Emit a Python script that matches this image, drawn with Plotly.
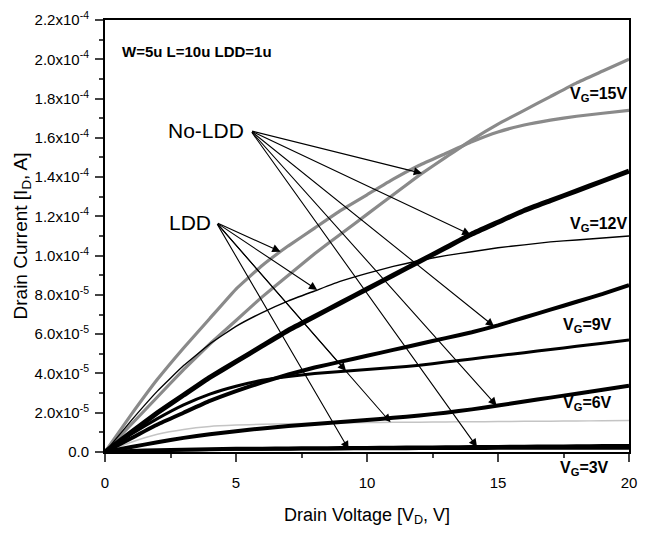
import numpy as np
import plotly.graph_objects as go

# Drain voltage sample points [V]
VD = list(range(0, 21))

# Drain current series, in units of 1e-5 A
noldd_15 = [0, 1.4, 2.8, 4.2, 5.5, 6.7, 7.9, 9.0, 10.1, 11.1, 12.1, 13.1, 14.1, 15.0, 15.9, 16.7, 17.4, 18.1, 18.8, 19.4, 20.0]
ldd_15 = [0, 1.9, 3.7, 5.3, 6.8, 8.3, 9.5, 10.5, 11.4, 12.3, 13.1, 13.9, 14.6, 15.2, 15.8, 16.3, 16.65, 16.9, 17.1, 17.25, 17.4]
noldd_12 = [0, 1.0, 2.0, 2.9, 3.8, 4.6, 5.4, 6.2, 6.9, 7.6, 8.3, 9.0, 9.7, 10.4, 11.1, 11.7, 12.3, 12.8, 13.3, 13.8, 14.3]
ldd_12 = [0, 1.6, 3.1, 4.4, 5.5, 6.4, 7.1, 7.7, 8.2, 8.7, 9.1, 9.45, 9.75, 10.0, 10.2, 10.4, 10.55, 10.7, 10.8, 10.9, 11.0]
noldd_9 = [0, 0.7, 1.4, 2.0, 2.6, 3.1, 3.55, 3.95, 4.3, 4.6, 4.9, 5.2, 5.5, 5.8, 6.1, 6.45, 6.85, 7.25, 7.65, 8.05, 8.5]
ldd_9 = [0, 0.9, 1.7, 2.4, 2.95, 3.35, 3.65, 3.85, 4.0, 4.1, 4.2, 4.3, 4.42, 4.58, 4.74, 4.9, 5.06, 5.22, 5.38, 5.54, 5.7]
noldd_6 = [0, 0.25, 0.5, 0.72, 0.9, 1.06, 1.2, 1.32, 1.43, 1.53, 1.63, 1.74, 1.86, 2.0, 2.17, 2.37, 2.57, 2.77, 2.97, 3.17, 3.37]
ldd_6 = [0, 0.5, 0.9, 1.15, 1.3, 1.37, 1.41, 1.44, 1.46, 1.48, 1.5, 1.51, 1.52, 1.53, 1.54, 1.55, 1.56, 1.57, 1.58, 1.59, 1.6]
noldd_3 = [0, 0.05, 0.09, 0.12, 0.14, 0.16, 0.17, 0.18, 0.19, 0.2, 0.21, 0.22, 0.23, 0.24, 0.25, 0.26, 0.27, 0.28, 0.29, 0.3, 0.31]
ldd_3 = [0, 0.04, 0.07, 0.09, 0.1, 0.11, 0.12, 0.12, 0.13, 0.13, 0.14, 0.14, 0.15, 0.15, 0.15, 0.16, 0.16, 0.16, 0.17, 0.17, 0.17]

SCALE = 1e-5

# Tick labels
y_tickvals = [0, 2e-5, 4e-5, 6e-5, 8e-5, 1e-4, 1.2e-4, 1.4e-4, 1.6e-4, 1.8e-4, 2.0e-4, 2.2e-4]
y_ticktext = ["0.0", "2.0x10<sup>-5</sup>", "4.0x10<sup>-5</sup>", "6.0x10<sup>-5</sup>", "8.0x10<sup>-5</sup>",
              "1.0x10<sup>-4</sup>", "1.2x10<sup>-4</sup>", "1.4x10<sup>-4</sup>", "1.6x10<sup>-4</sup>",
              "1.8x10<sup>-4</sup>", "2.0x10<sup>-4</sup>", "2.2x10<sup>-4</sup>"]
x_tickvals = [0, 5, 10, 15, 20]
x_ticktext = ["0", "5", "10", "15", "20"]

# Gate voltage labels: (text, VD position, current position in 1e-5 A)
vg_labels = ["V<sub>G</sub>=15V", "V<sub>G</sub>=12V", "V<sub>G</sub>=9V", "V<sub>G</sub>=6V"]
vg_label_x = [18.85, 18.85, 18.4, 18.4]
vg_label_y = [18.2, 11.6, 6.45, 2.45]
vg3_label = "V<sub>G</sub>=3V"

# Arrow targets: VD position along each curve
noldd_tail = (5.56, 16.36)
ldd_tail = (4.25, 11.68)
noldd_target_v = [12.1, 13.95, 14.85, 14.95, 14.2]
ldd_target_v = [6.7, 8.1, 9.2, 10.9, 9.3]

vd = np.array(VD, dtype=float)
curves_noldd = [noldd_15, noldd_12, noldd_9, noldd_6, noldd_3]
curves_ldd = [ldd_15, ldd_12, ldd_9, ldd_6, ldd_3]

fig = go.Figure()

def add(series, color, width):
    fig.add_trace(go.Scatter(x=VD, y=[v * SCALE for v in series], mode="lines",
                             line=dict(color=color, width=width, shape="spline", smoothing=0.3),
                             hoverinfo="skip", showlegend=False))

add(ldd_6, "#c4c4c4", 1.5)
add(noldd_15, "#8a8a8a", 3.2)
add(ldd_15, "#8a8a8a", 3.2)
add(ldd_12, "#000000", 1.4)
add(noldd_12, "#000000", 5)
add(noldd_9, "#000000", 4)
add(ldd_9, "#000000", 3)
add(noldd_6, "#000000", 4)
add(ldd_3, "#000000", 2)
add(noldd_3, "#000000", 4)

annotations = []
for tv, c in zip(noldd_target_v, curves_noldd):
    ty = float(np.interp(tv, vd, c))
    annotations.append(dict(x=tv, y=ty * SCALE, ax=noldd_tail[0], ay=noldd_tail[1] * SCALE,
                            xref="x", yref="y", axref="x", ayref="y", text="", showarrow=True,
                            arrowhead=2, arrowsize=1.5, arrowwidth=1.1, arrowcolor="black"))
for tv, c in zip(ldd_target_v, curves_ldd):
    ty = float(np.interp(tv, vd, c))
    annotations.append(dict(x=tv, y=ty * SCALE, ax=ldd_tail[0], ay=ldd_tail[1] * SCALE,
                            xref="x", yref="y", axref="x", ayref="y", text="", showarrow=True,
                            arrowhead=2, arrowsize=1.5, arrowwidth=1.1, arrowcolor="black"))

FONT = "Liberation Sans Narrow, Arial Narrow, Liberation Sans, Arial"
lbl_font = dict(family=FONT, size=16, color="black")
for t, x, y in zip(vg_labels, vg_label_x, vg_label_y):
    annotations.append(dict(x=x, y=y * SCALE, xref="x", yref="y", text="<b>" + t + "</b>",
                            showarrow=False, font=lbl_font, xanchor="center", yanchor="middle"))
annotations.append(dict(x=18.3, y=-0.039, xref="x", yref="paper", text="<b>" + vg3_label + "</b>",
                        showarrow=False, font=lbl_font, xanchor="center", yanchor="middle"))

annotations.append(dict(x=0.028, y=0.926, xref="paper", yref="paper", text="<b>W=5u L=10u LDD=1u</b>",
                        showarrow=False, xanchor="left", yanchor="middle",
                        font=dict(family=FONT, size=15, color="black")))
annotations.append(dict(x=noldd_tail[0], y=noldd_tail[1] * SCALE, xref="x", yref="y", text="No-LDD",
                        showarrow=False, xanchor="right", yanchor="middle", xshift=-5,
                        font=dict(family=FONT, size=21, color="black")))
annotations.append(dict(x=ldd_tail[0], y=ldd_tail[1] * SCALE, xref="x", yref="y", text="LDD",
                        showarrow=False, xanchor="right", yanchor="middle", xshift=-3,
                        font=dict(family=FONT, size=21, color="black")))

fig.update_layout(
    width=646, height=533,
    margin=dict(l=105, r=9, t=15, b=81),
    paper_bgcolor="white", plot_bgcolor="white",
    annotations=annotations,
    xaxis=dict(range=[0, 20], tickvals=x_tickvals, ticktext=x_ticktext, ticks="outside", ticklen=8,
               tickwidth=1.5, showgrid=False, zeroline=False, showline=True, linecolor="black", linewidth=2,
               mirror=True, tickfont=dict(family=FONT, size=15, color="black"), ticklabelstandoff=8,
               minor=dict(dtick=2.5, ticks="outside", ticklen=4, tickwidth=1.5, showgrid=False),
               title=dict(text="Drain Voltage [V<sub>D</sub>, V]", standoff=18,
                          font=dict(family=FONT, size=18, color="black"))),
    yaxis=dict(range=[0, 2.2e-4], tickvals=y_tickvals, ticktext=y_ticktext, ticks="outside", ticklen=8,
               tickwidth=1.5, showgrid=False, zeroline=False, showline=True, linecolor="black", linewidth=2,
               mirror=True, tickfont=dict(family=FONT, size=15, color="black"), ticklabelstandoff=3,
               minor=dict(dtick=1e-5, ticks="outside", ticklen=4, tickwidth=1.5, showgrid=False),
               title=dict(text="Drain Current [I<sub>D</sub>, A]", standoff=2,
                          font=dict(family="Liberation Sans, Arial", size=19, color="black"))),
)

fig.write_html("out.html")
